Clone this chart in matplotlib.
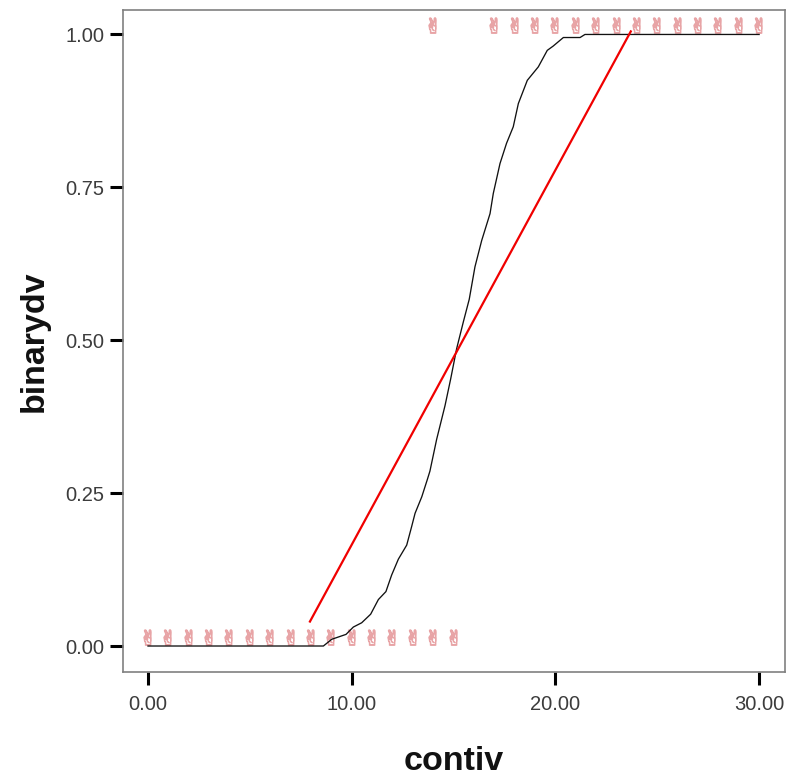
import numpy as np
import matplotlib
matplotlib.use('Agg')
import matplotlib.pyplot as plt
from matplotlib.transforms import ScaledTranslation

plt.rcParams['font.family'] = ['Liberation Sans', 'DejaVu Sans']

# observed points
low_x = [0, 1, 2, 3, 4, 5, 6, 7, 8, 9, 10, 11, 12, 13, 14, 15]
low_y = [0] * len(low_x)
high_x = [14, 17, 18, 19, 20, 21, 22, 23, 24, 25, 26, 27, 28, 29, 30]
high_y = [1] * len(high_x)

# fitted curve
curve_x = [0, 7.95, 8.61, 9.02, 9.72, 10.08, 10.49, 10.93, 11.31, 11.68, 11.96,
           12.29, 12.70, 12.94, 13.11, 13.44, 13.71, 13.84, 14.17, 14.58, 14.86,
           15.15, 15.48, 15.77, 16.05, 16.38, 16.79, 16.95, 17.28, 17.60, 17.93,
           18.18, 18.62, 19.16, 19.60, 19.89, 20.39, 21.21, 21.45, 30]
curve_y = [0, 0, 0, 0.011, 0.019, 0.031, 0.038, 0.052, 0.076, 0.089, 0.116,
           0.142, 0.165, 0.195, 0.217, 0.244, 0.272, 0.286, 0.338, 0.393, 0.437,
           0.486, 0.530, 0.567, 0.620, 0.663, 0.707, 0.740, 0.789, 0.822, 0.849,
           0.887, 0.925, 0.947, 0.974, 0.981, 0.995, 0.995, 1, 1]

# straight fit
line_x = [7.95, 23.7]
line_y = [0.04, 1.005]

xticks = [0, 10, 20, 30]
yticks = [0, 0.25, 0.5, 0.75, 1]

fig = plt.figure(figsize=(7.88, 7.76), dpi=100)
ax = fig.add_axes([123 / 788, 1 - 672 / 776, 662 / 788, 662 / 776])

# the hand glyphs sit a little above their true value
shift = ax.transData + ScaledTranslation(-1 / 100, 9 / 100, fig.dpi_scale_trans)
for xs, ys in [(low_x, low_y), (high_x, high_y)]:
    ax.scatter(xs, ys, marker='$\u270c$', s=125, facecolor='#dc8a8e', edgecolor='#e8a4a6',
               linewidths=0.7, transform=shift, clip_on=False, zorder=2)

ax.plot(curve_x, curve_y, color='#111111', linewidth=0.95, zorder=3)
ax.plot(line_x, line_y, color='#f00000', linewidth=1.6, zorder=4)

ax.set_xlim(-1.227, 31.27)
ax.set_ylim(-0.0425, 1.04)
ax.set_xticks(xticks)
ax.set_xticklabels(['%.2f' % t for t in xticks])
ax.set_yticks(yticks)
ax.set_yticklabels(['%.2f' % t for t in yticks])
ax.tick_params(length=9.5, width=2.2, color='black', labelsize=14.5,
               labelcolor='#3c3c3c')
ax.tick_params(axis='x', pad=7)
ax.tick_params(axis='y', pad=4)
for s in ax.spines.values():
    s.set_color('#808080')
    s.set_linewidth(1.2)

ax.set_xlabel('contiv', fontsize=24.5, fontweight='bold', labelpad=23, color='#111111')
ax.set_ylabel('binarydv', fontsize=24.5, fontweight='bold', labelpad=11, color='#111111')

fig.savefig('out.png', dpi=100)
